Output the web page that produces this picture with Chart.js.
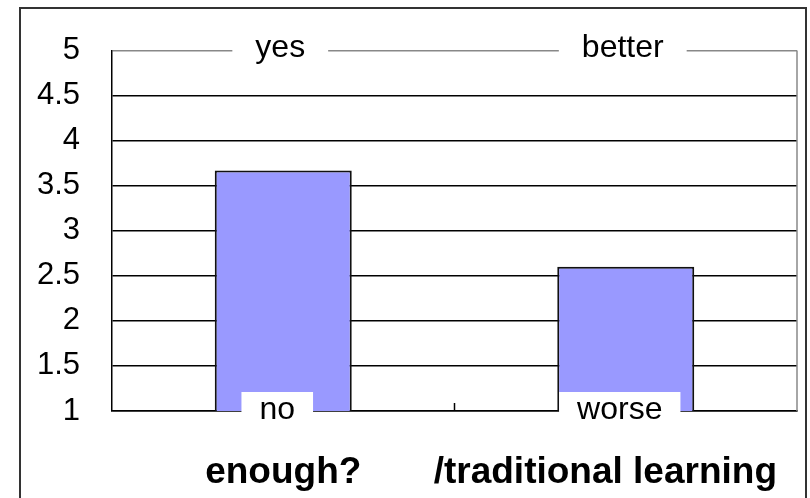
<!DOCTYPE html>
<html>
<head>
<meta charset="utf-8">
<script src="https://cdn.jsdelivr.net/npm/chart.js@4/dist/chart.umd.min.js"></script>
<style>
html,body{margin:0;padding:0;background:#fff;}
#wrap{width:810px;height:498px;position:relative;}
</style>
</head>
<body>
<div id="wrap"><canvas id="c" width="810" height="498"></canvas></div>
<script>
const categories = ["enough?", "/traditional learning"];
const values = [3.67, 2.6];
const topLabels = ["yes", "better"];
const bottomLabels = ["no", "worse"];
const yTicks = [1, 1.5, 2, 2.5, 3, 3.5, 4, 4.5, 5];

const FONT = "'Liberation Sans', Arial, sans-serif";

const decor = {
  id: 'decor',
  beforeDraw(chart) {
    const ctx = chart.ctx;
    ctx.save();
    ctx.fillStyle = '#fff';
    ctx.fillRect(0, 0, chart.width, chart.height);
    ctx.strokeStyle = '#333';
    ctx.lineWidth = 2;
    ctx.strokeRect(20, 8, 786, 520);
    ctx.restore();
  },
  afterDraw(chart) {
    const ctx = chart.ctx;
    const xs = chart.scales.x, ys = chart.scales.y;
    const ca = chart.chartArea;
    ctx.save();
    // right gray border of plot
    ctx.strokeStyle = '#888';
    ctx.lineWidth = 1.5;
    ctx.beginPath();
    ctx.moveTo(ca.right, ys.getPixelForValue(yTicks[yTicks.length - 1]));
    ctx.lineTo(ca.right, ca.bottom);
    ctx.stroke();
    // middle category boundary tick
    const mid = (xs.getPixelForValue(0) + xs.getPixelForValue(1)) / 2;
    ctx.strokeStyle = '#000';
    ctx.beginPath();
    ctx.moveTo(mid, ca.bottom);
    ctx.lineTo(mid, ca.bottom - 8);
    ctx.stroke();

    // label boxes
    ctx.font = '32px ' + FONT;
    ctx.textAlign = 'center';
    ctx.textBaseline = 'alphabetic';
    const yTop = ys.getPixelForValue(yTicks[yTicks.length - 1]);
    const yBot = ys.getPixelForValue(yTicks[0]);
    for (let i = 0; i < categories.length; i++) {
      const cx = xs.getPixelForValue(i);
      // top
      let w = ctx.measureText(topLabels[i]).width + 46;
      ctx.fillStyle = '#fff';
      ctx.fillRect(cx - 3 - w / 2, yTop - 18, w, 36);
      ctx.fillStyle = '#000';
      ctx.fillText(topLabels[i], cx - 3, yTop + 6);
      // bottom
      w = ctx.measureText(bottomLabels[i]).width + 36;
      ctx.fillStyle = '#fff';
      ctx.fillRect(cx - 6 - w / 2, yBot - 19, w, 34);
      ctx.fillStyle = '#000';
      ctx.fillText(bottomLabels[i], cx - 6, yBot + 8);
    }
    // category labels
    ctx.font = 'bold 37px ' + FONT;
    for (let i = 0; i < categories.length; i++) {
      const w = ctx.measureText(categories[i]).width;
      let cx = xs.getPixelForValue(i);
      cx = Math.min(cx, ca.right - 20 - w / 2);
      ctx.fillText(categories[i], cx, ca.bottom + 72);
    }
    ctx.restore();
  }
};

new Chart(document.getElementById('c'), {
  type: 'bar',
  data: {
    labels: categories,
    datasets: [{
      data: values,
      backgroundColor: '#9999FF',
      borderColor: '#111',
      borderWidth: 2,
      borderSkipped: 'bottom',
      barPercentage: 0.4,
      categoryPercentage: 1.0
    }]
  },
  plugins: [decor],
  options: {
    responsive: false,
    animation: false,
    devicePixelRatio: 1,
    layout: { padding: { top: 47, right: 13, left: 0, bottom: 0 } },
    plugins: { legend: { display: false }, tooltip: { enabled: false } },
    scales: {
      x: {
        offset: true,
        grid: { display: false, drawTicks: false },
        border: { color: '#000', width: 1.5 },
        ticks: { display: false },
        afterFit(s) { s.height = 87; }
      },
      y: {
        min: yTicks[0],
        max: yTicks[yTicks.length - 1],
        afterBuildTicks(s) { s.ticks = yTicks.map(v => ({ value: v })); },
        grid: {
          drawTicks: false,
          lineWidth: 1.5,
          color: c => (c.tick && c.tick.value === yTicks[yTicks.length - 1]) ? '#888' : '#000'
        },
        border: { color: '#000', width: 1.5 },
        ticks: {
          font: { family: FONT, size: 31 },
          color: '#000',
          padding: 32,
          crossAlign: 'near',
          callback: v => String(v)
        },
        afterFit(s) { s.width = 112; }
      }
    }
  }
});
</script>
</body>
</html>
